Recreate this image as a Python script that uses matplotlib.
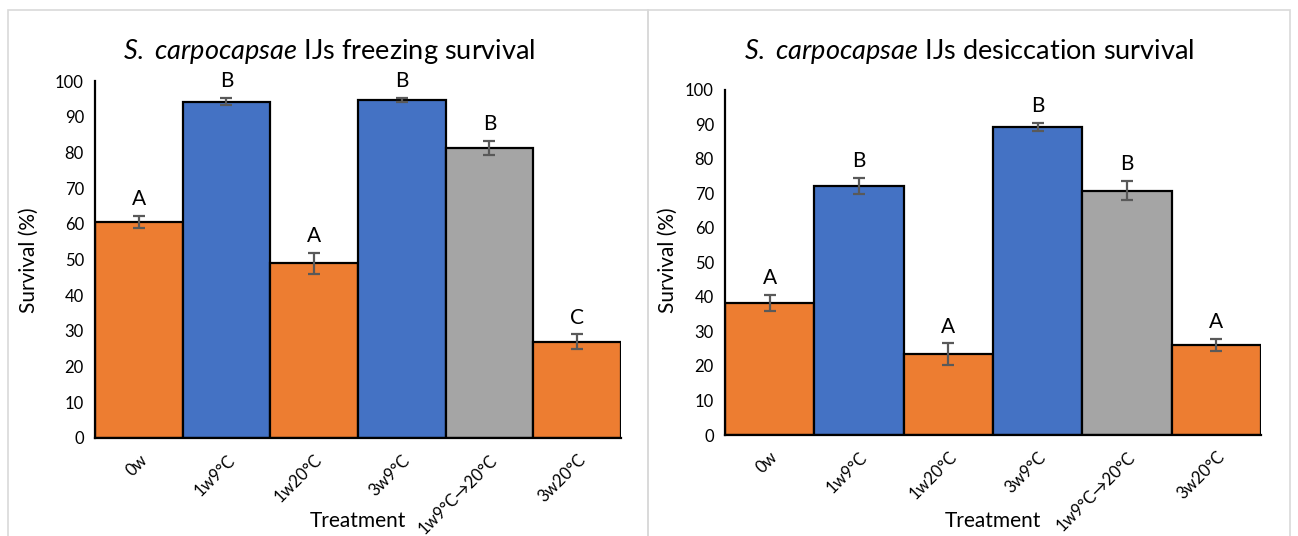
import matplotlib.pyplot as plt
from matplotlib.patches import Rectangle

plt.rcParams['font.family'] = ['Lato', 'DejaVu Sans']
plt.rcParams['mathtext.fontset'] = 'custom'
plt.rcParams['mathtext.rm'] = 'Lato'
plt.rcParams['mathtext.it'] = 'Lato:italic'

treatments = ['0w', '1w9°C', '1w20°C', '3w9°C', '1w9°C→20°C', '3w20°C']
bar_colors = ['#ED7D31', '#4472C4', '#ED7D31', '#4472C4', '#A5A5A5', '#ED7D31']

freeze_mean = [60.5, 94.2, 48.9, 94.6, 81.2, 27.0]
freeze_err = [1.7, 1.0, 3.0, 0.6, 1.9, 2.0]
freeze_letters = ['A', 'B', 'A', 'B', 'B', 'C']

desic_mean = [38.2, 72.0, 23.4, 89.1, 70.7, 26.1]
desic_err = [2.4, 2.3, 3.1, 1.2, 2.8, 1.8]
desic_letters = ['A', 'B', 'A', 'B', 'B', 'A']

W, H = 1298, 536
fig = plt.figure(figsize=(W / 100, H / 100), dpi=100)

# panel frames (Excel chart areas)
for x0, x1 in [(8, 648), (648, 1290)]:
    fig.patches.append(Rectangle((x0 / W, -0.05), (x1 - x0) / W, 1 - 10 / H + 0.05,
                                 transform=fig.transFigure, fill=False,
                                 edgecolor='#D9D9D9', linewidth=1.2))


def draw_panel(rect, means, errs, letters, kind, title_xy, ylab_x, xlab_xy):
    ax = fig.add_axes(rect)
    xs = range(len(treatments))
    ax.bar(xs, means, width=1.0, color=bar_colors, edgecolor='black', linewidth=1.6, zorder=2)
    ax.errorbar(xs, means, yerr=errs, fmt='none', ecolor='#595959', elinewidth=1.6,
                capsize=4.5, capthick=1.6, zorder=3)
    for x, m, e, l in zip(xs, means, errs, letters):
        ax.annotate(l, (x, m + e), xytext=(0, 5), textcoords='offset points',
                    ha='center', va='bottom', fontsize=15)
    ax.set_xlim(-0.5, len(treatments) - 0.5)
    ax.set_ylim(0, 100)
    ax.set_yticks(range(0, 101, 10))
    ax.set_xticks(list(xs))
    ax.set_xticklabels(treatments, rotation=45, ha='right', va='top',
                       rotation_mode='anchor', fontsize=12)
    ax.tick_params(axis='both', length=0, labelsize=12, colors='#000000')
    ax.tick_params(axis='x', pad=10)
    ax.tick_params(axis='y', pad=8)
    for s in ['top', 'right']:
        ax.spines[s].set_visible(False)
    for s in ['left', 'bottom']:
        ax.spines[s].set_linewidth(1.6)
        ax.spines[s].set_zorder(4)
    ax.patch.set_alpha(0)

    fig.text(title_xy[0] / W, 1 - title_xy[1] / H,
             r'$\it{S.}$ $\it{carpocapsae}$' + f' IJs {kind} survival',
             ha='center', va='center', fontsize=19.5)
    fig.text(ylab_x / W, 1 - 260 / H, 'Survival (%)', rotation=90,
             ha='center', va='center', fontsize=15)
    fig.text(xlab_xy[0] / W, 1 - xlab_xy[1] / H, 'Treatment',
             ha='center', va='center', fontsize=15)
    return ax


draw_panel([95 / W, 1 - 438 / H, (621 - 95) / W, (438 - 81) / H],
           freeze_mean, freeze_err, freeze_letters, 'freezing',
           (329, 51), 29, (358, 521))
draw_panel([725 / W, 1 - 435 / H, (1261 - 725) / W, (435 - 89.6) / H],
           desic_mean, desic_err, desic_letters, 'desiccation',
           (969, 51), 668, (993, 521))

fig.savefig('out.png', dpi=100)
